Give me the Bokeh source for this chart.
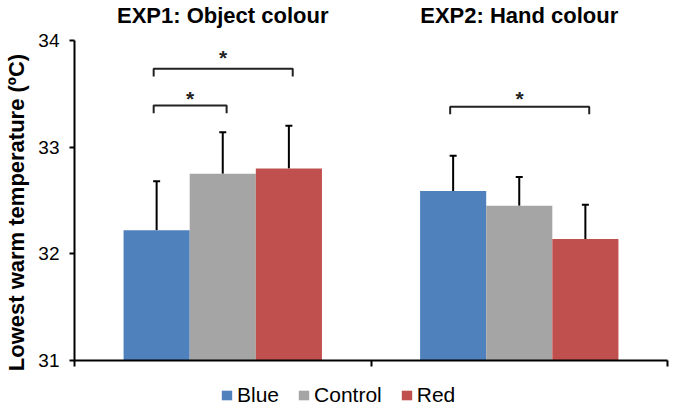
import math
from bokeh.plotting import figure
from bokeh.models import (ColumnDataSource, Range1d, FixedTicker, Whisker, TeeHead,
                          Legend, LegendItem)
from bokeh.core.properties import value
from bokeh.embed import file_html
from bokeh.resources import INLINE

# ---- data ----
groups = ["EXP1: Object colour", "EXP2: Hand colour"]
series = ["Blue", "Control", "Red"]
colors = ["#4F81BD", "#A5A5A5", "#C0504D"]
blue_vals = [32.22, 32.59]
control_vals = [32.75, 32.45]
red_vals = [32.80, 32.14]
blue_err = [0.46, 0.33]
control_err = [0.39, 0.27]
red_err = [0.40, 0.32]
y_ticks = [31, 32, 33, 34]
y_label = "Lowest warm temperature (ºC)"
# significance brackets: (group index, from series, to series, bracket level, star level)
brackets = [(0, 0, 2, 33.734, 33.877), (0, 0, 1, 33.39, 33.493), (1, 0, 2, 33.38, 33.493)]

values = [blue_vals, control_vals, red_vals]
errors = [blue_err, control_err, red_err]

FONT = "Liberation Sans"
BAR_W = 0.223
offsets = [-BAR_W, 0.0, BAR_W]

# the frame covers the whole canvas; axes are pinned inside it with fixed_location
X_RANGE = (-0.2496, 2.0236)
Y_RANGE = (30.55, 34.375)

p = figure(width=674, height=408, output_backend="svg", toolbar_location=None,
           x_range=Range1d(*X_RANGE), y_range=Range1d(*Y_RANGE),
           min_border=0, min_border_left=0, min_border_right=0,
           min_border_top=0, min_border_bottom=0)
p.outline_line_color = None
p.grid.visible = False
p.background_fill_color = "white"

renderers = []
for si, name in enumerate(series):
    xs = [gi + 0.5 + offsets[si] for gi in range(len(groups))]
    src = ColumnDataSource(dict(x=xs, top=values[si],
                                up=[v + e for v, e in zip(values[si], errors[si])]))
    r = p.vbar(x="x", top="top", bottom=y_ticks[0], width=BAR_W, source=src,
               fill_color=colors[si], line_color=None)
    renderers.append(r)
    w = Whisker(base="x", lower="top", upper="up", source=src, dimension="height",
                line_color="black", line_width=2, lower_head=None,
                upper_head=TeeHead(size=7, line_color="black", line_width=2))
    p.add_layout(w)

# significance brackets
bx, by, sx, sy = [], [], [], []
drop = 0.072
for gi, a, b, lvl, star in brackets:
    x0 = gi + 0.5 + offsets[a] - 0.01
    x1 = gi + 0.5 + offsets[b] + 0.013
    bx.append([x0, x0, x1, x1])
    by.append([lvl - drop, lvl, lvl, lvl - drop])
    sx.append((x0 + x1) / 2)
    sy.append(star)
p.multi_line(xs=bx, ys=by, line_color="#222222", line_width=2)
p.text(x=sx, y=sy, text=["*"] * len(sx), text_font=value(FONT), text_font_size="21px",
       text_font_style="bold", text_align="center", text_baseline="alphabetic",
       y_offset=4, text_color="#222222")

# group titles
p.text(x=[gi + 0.5 for gi in range(len(groups))], y=[34.239] * len(groups), text=groups,
       text_font=value(FONT), text_font_size="22px", text_font_style="bold",
       text_align="center", text_baseline="middle", text_color="black")

# y axis title
p.text(x=[-0.197], y=[32.387], text=[y_label], angle=math.pi / 2,
       text_font=value(FONT), text_font_size="22px", text_font_style="bold",
       text_align="center", text_baseline="middle", text_color="black")

# axes
p.yaxis.fixed_location = 0
p.yaxis.ticker = FixedTicker(ticks=y_ticks)
p.yaxis.bounds = (y_ticks[0], y_ticks[-1])
p.yaxis.minor_tick_line_color = None
p.yaxis.major_tick_in = 0
p.yaxis.major_tick_out = 5
p.yaxis.major_tick_line_width = 2
p.yaxis.axis_line_width = 2
p.yaxis.axis_line_color = "black"
p.yaxis.major_tick_line_color = "black"
p.yaxis.major_label_text_font = FONT
p.yaxis.major_label_text_font_size = "19px"
p.yaxis.major_label_text_color = "black"
p.yaxis.major_label_standoff = 10

p.xaxis.fixed_location = y_ticks[0]
p.xaxis.ticker = FixedTicker(ticks=list(range(len(groups) + 1)))
p.xaxis.bounds = (0, len(groups))
p.xaxis.major_label_overrides = {i: "" for i in range(len(groups) + 1)}
p.xaxis.major_label_text_font_size = "1px"
p.xaxis.minor_tick_line_color = None
p.xaxis.major_tick_in = 0
p.xaxis.major_tick_out = 6
p.xaxis.major_tick_line_width = 2
p.xaxis.axis_line_width = 2
p.xaxis.axis_line_color = "black"
p.xaxis.major_tick_line_color = "black"

legend = Legend(items=[LegendItem(label=n, renderers=[r]) for n, r in zip(series, renderers)],
                orientation="horizontal", location=(220, 1),
                glyph_width=13, glyph_height=12, label_standoff=4, spacing=18,
                padding=0, margin=0, label_height=20,
                label_text_font=FONT, label_text_font_size="21px", label_text_color="black",
                border_line_color=None, background_fill_alpha=0)
p.add_layout(legend)

open("out.html", "w").write(file_html(p, INLINE))
